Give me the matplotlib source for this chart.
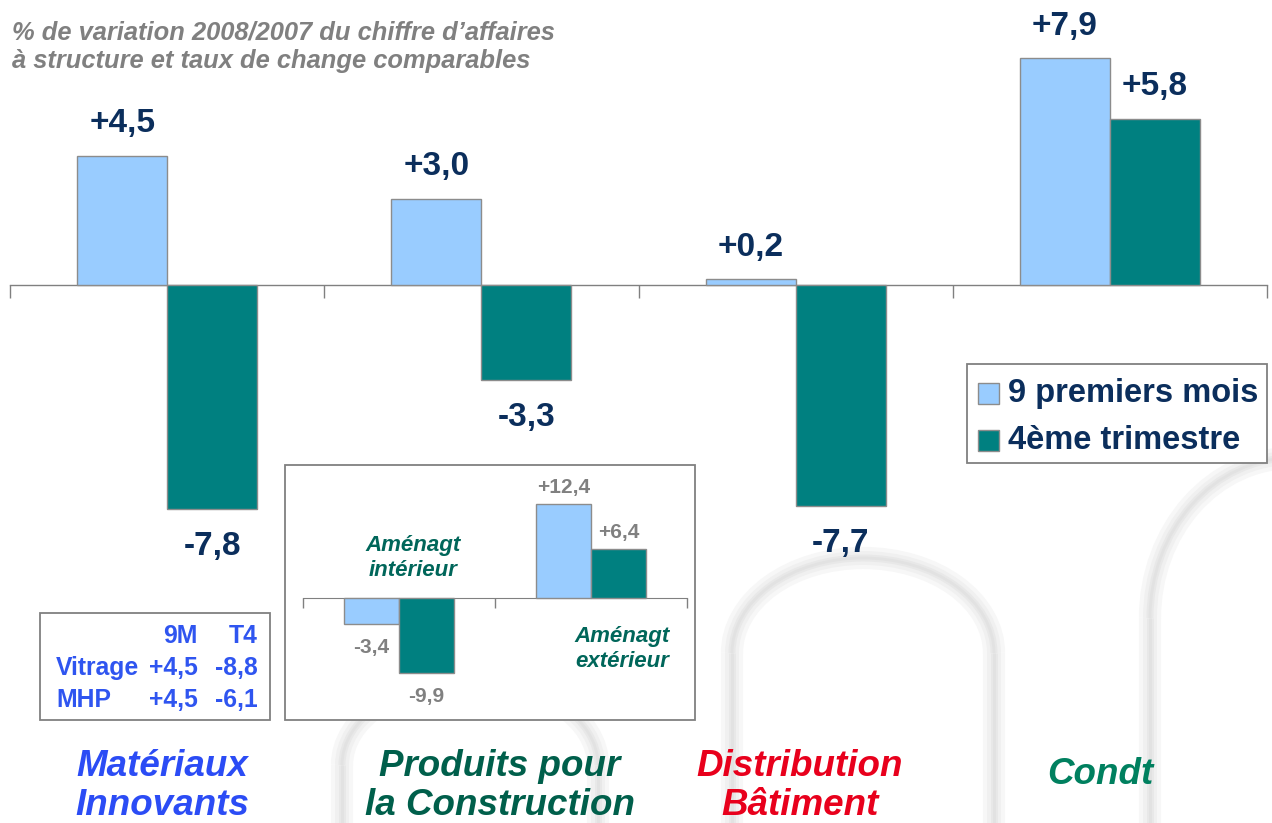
import matplotlib
matplotlib.use("Agg")
import matplotlib.pyplot as plt
from matplotlib.patches import Rectangle, Arc
import numpy as np

plt.rcParams['font.family'] = ['Liberation Sans', 'DejaVu Sans']

# ---------------- data ----------------
categories = ["Matériaux\nInnovants", "Produits pour\nla Construction", "Distribution\nBâtiment", "Condt"]
nine_months = [4.5, 3.0, 0.2, 7.9]
fourth_quarter = [-7.8, -3.3, -7.7, 5.8]
series_names = ["9 premiers mois", "4ème trimestre"]

inset_categories = ["Aménagt\nintérieur", "Aménagt\nextérieur"]
inset_nine_months = [-3.4, 12.4]
inset_fourth_quarter = [-9.9, 6.4]

table_columns = ["9M", "T4"]
table_rows = ["Vitrage", "MHP"]
table_nine_months = [4.5, 4.5]
table_fourth_quarter = [-8.8, -6.1]

title_lines = ["% de variation 2008/2007 du chiffre d\u2019affaires",
               "à structure et taux de change comparables"]

# ---------------- style ----------------
W, H = 1272, 823
C_LIGHT = "#99CCFF"
C_TEAL = "#008080"
C_EDGE = "#8C8C8C"
C_NAVY = "#0B2E5C"
C_GREY = "#808080"
C_TABLE = "#2F55F0"
cat_colors = ["#2B4CF5", "#005F4B", "#E8001C", "#00805F"]
series_colors = [C_LIGHT, C_TEAL]


def fx(x):
    return x / W


def fy(y):
    return 1 - y / H


def fmt(v):
    return f"{v:+.1f}".replace(".", ",")


fig = plt.figure(figsize=(W / 100, H / 100), dpi=100)
fig.patch.set_facecolor("white")

# ---------------- background (soft decorative arches + boxes) ----------------
bg = fig.add_axes([0, 0, 1, 1], zorder=-5)
bg.set_xlim(0, W)
bg.set_ylim(H, 0)
bg.axis("off")
soft = [(16, "#F7F7F7"), (10, "#F0F0F0"), (5, "#E8E8E8"), (2, "#E2E2E2")]
arches = [(470, 128, 680, 85), (863, 131, 558, 95), (1292, 142, 458, 160)]
for cx, half_w, top, semi_h in arches:
    for lw, col in soft:
        bg.add_patch(Arc((cx, top + semi_h), 2 * half_w, 2 * semi_h, theta1=180, theta2=360,
                         color=col, lw=lw, zorder=0))
        for lx in (cx - half_w, cx + half_w):
            bg.plot([lx, lx], [top + semi_h, H], color=col, lw=lw, solid_capstyle="butt", zorder=0)

bg.add_patch(Rectangle((40, 613), 230, 107, facecolor="white", edgecolor=C_GREY, linewidth=1.3, zorder=2))
bg.add_patch(Rectangle((285, 465), 410, 255, facecolor="white", edgecolor=C_GREY, linewidth=1.3, zorder=2))

# legend (drawn manually)
bg.add_patch(Rectangle((967, 364), 300, 99, facecolor="white", edgecolor=C_GREY, linewidth=1.3, zorder=2))
for i, (name, col) in enumerate(zip(series_names, series_colors)):
    yc = 393 + i * 47
    bg.add_patch(Rectangle((978, yc - 10.5), 21, 21, facecolor=col, edgecolor=C_EDGE, linewidth=1, zorder=3))
    bg.text(1008, yc, name, ha="left", va="center", fontsize=23.5, fontweight="bold",
            color=C_NAVY, zorder=4)

# ---------------- main axes ----------------
px_per_unit = 28.7
base_y = 285
ax = fig.add_axes([fx(10), 0, fx(1257), 1])
ax.set_facecolor("none")
ax.set_ylim(-(H - base_y) / px_per_unit, base_y / px_per_unit)
ax.set_xlim(0, len(categories))
bw = 0.286
x = np.arange(len(categories)) + 0.5
b1 = ax.bar(x - bw / 2, nine_months, bw, color=C_LIGHT, edgecolor=C_EDGE, linewidth=1, zorder=3)
b2 = ax.bar(x + bw / 2, fourth_quarter, bw, color=C_TEAL, edgecolor=C_EDGE, linewidth=1, zorder=3)

for s in ["top", "left", "right"]:
    ax.spines[s].set_visible(False)
ax.spines["bottom"].set_position(("data", 0))
ax.spines["bottom"].set_color(C_GREY)
ax.spines["bottom"].set_linewidth(1)
ax.set_xticks(np.arange(len(categories) + 1))
ax.set_xticklabels([])
ax.tick_params(axis="x", direction="out", length=9, color=C_GREY, width=1)
ax.set_yticks([])

for bars, vals in [(b1, nine_months), (b2, fourth_quarter)]:
    for r, v in zip(bars, vals):
        cx = r.get_x() + r.get_width() / 2
        off = 23 if v >= 0 else -27
        ax.annotate(fmt(v), (cx, v), xytext=(0, off), textcoords="offset points",
                    ha="center", va="center", fontsize=24, fontweight="bold", color=C_NAVY)

# title
for ty, line in zip([33, 61], title_lines):
    fig.text(fx(12), fy(ty), line, ha="left", va="center", fontsize=18.4,
             fontweight="bold", fontstyle="italic", color=C_GREY)

# category labels
label_pos = [(162, 786), (500, 786), (800, 786), (1100, 775)]
for lab, (lx, ly), col in zip(categories, label_pos, cat_colors):
    fig.text(fx(lx), fy(ly), lab, ha="center", va="center", fontsize=26.5, fontweight="bold",
             fontstyle="italic", color=col, linespacing=1.12)

# ---------------- small table ----------------
row_y = [636, 668, 700]
col_x = [198, 258]
tfs = 17.8
for cx, name in zip(col_x, table_columns):
    fig.text(fx(cx), fy(row_y[0]), name, ha="right", va="center", fontsize=tfs,
             fontweight="bold", color=C_TABLE)
for i, name in enumerate(table_rows):
    fig.text(fx(56), fy(row_y[i + 1]), name, ha="left", va="center", fontsize=tfs,
             fontweight="bold", color=C_TABLE)
    fig.text(fx(col_x[0]), fy(row_y[i + 1]), fmt(table_nine_months[i]), ha="right", va="center",
             fontsize=tfs, fontweight="bold", color=C_TABLE)
    fig.text(fx(col_x[1]), fy(row_y[i + 1]), fmt(table_fourth_quarter[i]), ha="right", va="center",
             fontsize=tfs, fontweight="bold", color=C_TABLE)

# ---------------- inset ----------------
ipx = 7.6
i_top, i_bot, i_base = 470, 715, 598
iax = fig.add_axes([fx(303), fy(i_bot), fx(384), (i_bot - i_top) / H])
iax.set_facecolor("none")
iax.set_ylim(-(i_bot - i_base) / ipx, (i_base - i_top) / ipx)
iax.set_xlim(0, len(inset_categories))
ix = np.arange(len(inset_categories)) + 0.5
ib1 = iax.bar(ix - bw / 2, inset_nine_months, bw, color=C_LIGHT, edgecolor=C_EDGE, linewidth=1, zorder=3)
ib2 = iax.bar(ix + bw / 2, inset_fourth_quarter, bw, color=C_TEAL, edgecolor=C_EDGE, linewidth=1, zorder=3)
for s in ["top", "left", "right"]:
    iax.spines[s].set_visible(False)
iax.spines["bottom"].set_position(("data", 0))
iax.spines["bottom"].set_color(C_GREY)
iax.set_xticks(np.arange(len(inset_categories) + 1))
iax.set_xticklabels([])
iax.tick_params(axis="x", direction="out", length=7, color=C_GREY, width=1)
iax.set_yticks([])
for bars, vals in [(ib1, inset_nine_months), (ib2, inset_fourth_quarter)]:
    for r, v in zip(bars, vals):
        cx = r.get_x() + r.get_width() / 2
        off = 12 if v >= 0 else -17
        iax.annotate(fmt(v), (cx, v), xytext=(0, off), textcoords="offset points",
                     ha="center", va="center", fontsize=15, fontweight="bold", color=C_GREY)

inset_label_pos = [(413, 558), (622, 649)]
for lab, (lx, ly) in zip(inset_categories, inset_label_pos):
    fig.text(fx(lx), fy(ly), lab, ha="center", va="center", fontsize=16, fontweight="bold",
             fontstyle="italic", color="#00665A", linespacing=1.2)

fig.savefig("out.png", dpi=100)
